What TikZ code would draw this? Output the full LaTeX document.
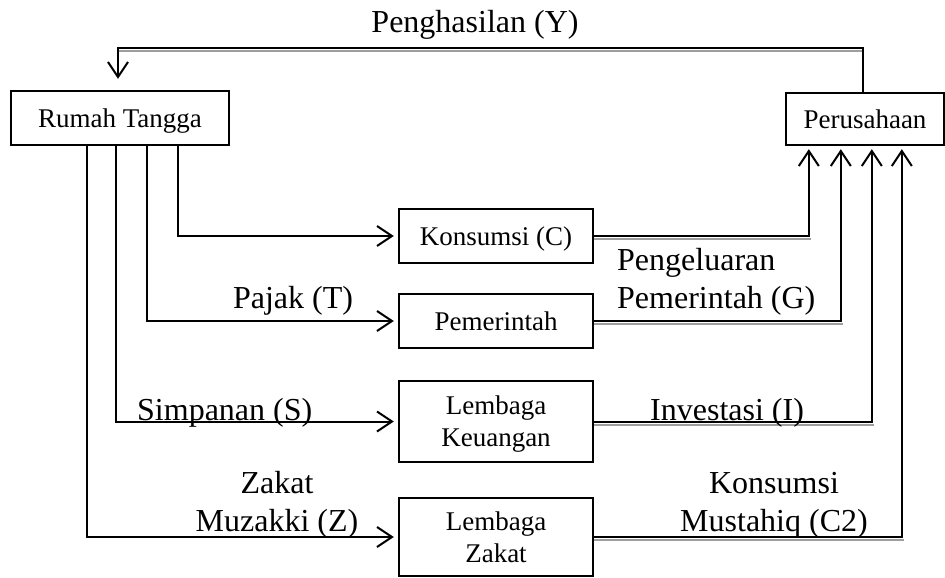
\documentclass[tikz,border=0pt]{standalone}
\usepackage{fontspec}
\setmainfont{Liberation Serif}
\usetikzlibrary{arrows.meta,calc}
\begin{document}
\begin{tikzpicture}[x=1pt,y=-1pt,
  box/.style={draw,line width=2.4pt,inner sep=0pt,minimum width=194pt,text depth=0pt,font=\fontsize{27}{32}\selectfont,align=center},
  lab/.style={inner sep=0pt,font=\fontsize{32}{38}\selectfont},
  flow/.style={line width=2pt},
  arr/.style={flow,-{Straight Barb[length=15pt,width=20pt,line width=2pt]}},
  shade/.style={line width=2pt,draw=black!38}]
\useasboundingbox (0,0) rectangle (945,578);
% boxes
\node[box,minimum width=218pt,minimum height=54pt] (rt) at (120,118) {Rumah Tangga};
\node[box,minimum width=158pt,minimum height=52pt] (per) at (865,119) {Perusahaan};
\node[box,minimum height=54pt] (kons) at (496,236) {Konsumsi (C)};
\node[box,minimum height=54pt] (pem) at (496,321) {Pemerintah};
\node[box,minimum height=81pt] (lk) at (496,421.5) {Lembaga\\Keuangan};
\node[box,minimum height=78pt] (lz) at (496,537) {Lembaga\\Zakat};
% shadows
\draw[shade] ($(rt.north)+(-2,-39)$) -- ($(per.north)+(-2,-41)$);
\draw[shade] ($(kons.east)+(0,3)$) -- ++(217,0);
\draw[shade] ($(pem.east)+(0,3)$) -- ++(249,0);
\draw[shade] ($(lk.east)+(0,3)$) -- ++(280,0);
\draw[shade] ($(lz.east)+(0,3)$) -- ++(310,0);
% top loop
\draw[arr,shorten >=11pt] ($(per.north)+(-2,0)$) -- ++(0,-44) -| ($(rt.north)+(-2,0)$);
% from Rumah Tangga
\draw[arr,shorten >=4pt] ($(rt.south west)+(168,0)$) |- (kons.west);
\draw[arr,shorten >=4pt] ($(rt.south west)+(137,0)$) |- (pem.west);
\draw[arr,shorten >=4pt] ($(rt.south west)+(106,0)$) |- (lk.west);
\draw[arr,shorten >=4pt] ($(rt.south west)+(77,0)$) |- (lz.west);
% to Perusahaan
\draw[arr,shorten >=3pt] (kons.east) -| ($(per.south west)+(24,0)$);
\draw[arr,shorten >=3pt] (pem.east) -| ($(per.south west)+(56,0)$);
\draw[arr,shorten >=3pt] (lk.east) -| ($(per.south west)+(87,0)$);
\draw[arr,shorten >=3pt] (lz.east) -| ($(per.south west)+(117,0)$);
% labels
\node[lab] (ly) at (475,25) {Penghasilan (Y)};
\node[lab,anchor=base] (lt) at (293,308) {Pajak (T)};
\node[lab,anchor=base west] (ls) at (137,420) {Simpanan (S)};
\node[lab,align=center] (lzk) at (277,505) {Zakat\\Muzakki (Z)};
\node[lab,align=left,anchor=west] (lg) at (617,281.5) {Pengeluaran\\Pemerintah (G)};
\node[lab,anchor=base west] (li) at (650,420) {Investasi (I)};
\node[lab,align=center] (lc2) at (774,505) {Konsumsi\\Mustahiq (C2)};
\end{tikzpicture}
\end{document}
